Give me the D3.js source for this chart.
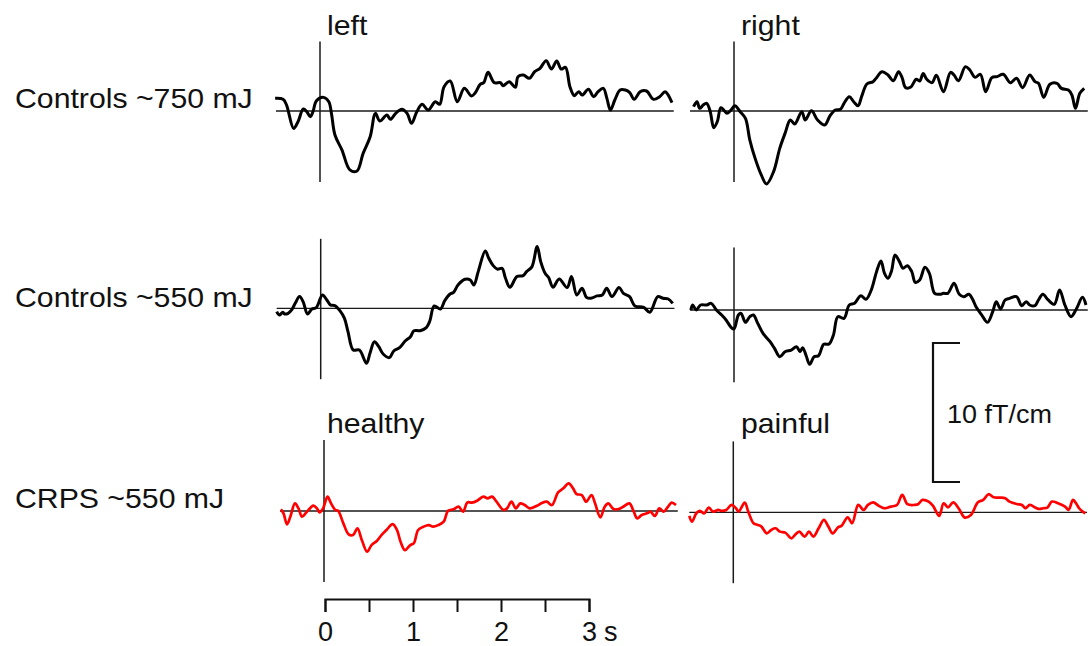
<!DOCTYPE html>
<html>
<head>
<meta charset="utf-8">
<script src="https://cdn.jsdelivr.net/npm/d3@7"></script>
<style>
  body { margin: 0; background: #fff; }
  svg { display: block; font-family: "Liberation Sans", Arial, sans-serif; }
</style>
</head>
<body>
<svg id="chart" width="1090" height="646"></svg>
<script>
// time in s (0 = stimulus), amplitude in fT/cm
var ctl750Left = [[-0.51,0.91],[-0.42,0.84],[-0.38,0.43],[-0.30,-1.25],[-0.25,-0.77],[-0.19,0.14],[-0.15,-0.05],[-0.11,-0.41],[-0.08,-0.05],[-0.04,0.74],[0.04,0.98],[0.10,0.67],[0.13,-0.17],[0.17,-1.73],[0.25,-2.81],[0.34,-4.24],[0.42,-4.32],[0.49,-3.05],[0.57,-1.85],[0.63,-0.17],[0.68,-0.72],[0.76,-0.29],[0.80,-0.60],[0.86,-0.17],[0.93,0.12],[0.99,-0.17],[1.04,-0.89],[1.10,-0.05],[1.16,0.48],[1.23,0.07],[1.31,0.67],[1.36,0.48],[1.41,1.75],[1.48,2.16],[1.56,0.67],[1.64,1.63],[1.72,1.08],[1.76,1.27],[1.82,1.92],[1.86,2.04],[1.91,2.78],[1.98,2.04],[2.05,2.04],[2.08,1.82],[2.15,2.11],[2.22,1.70],[2.25,2.47],[2.31,2.59],[2.38,2.35],[2.44,2.83],[2.50,3.07],[2.57,3.62],[2.63,3.02],[2.69,3.60],[2.74,3.02],[2.79,3.14],[2.84,1.75],[2.89,1.10],[2.94,1.39],[2.98,1.15],[3.05,1.56],[3.11,1.03],[3.16,1.39],[3.22,1.63],[3.26,0.91],[3.30,0.07],[3.35,0.79],[3.41,1.51],[3.47,1.51],[3.52,1.32],[3.57,0.84],[3.64,1.39],[3.71,1.44],[3.79,0.84],[3.86,1.03],[3.92,1.39],[3.95,1.22],[4.00,0.60]];

var ctl750Right = [[-0.46,0.31],[-0.42,0.67],[-0.39,0.19],[-0.35,0.43],[-0.31,0.55],[-0.27,-0.05],[-0.23,-1.20],[-0.19,-0.77],[-0.15,0.24],[-0.11,0.02],[-0.08,-0.17],[-0.04,0.02],[0.01,0.38],[0.07,-0.05],[0.13,-0.53],[0.18,-2.09],[0.24,-3.41],[0.31,-4.60],[0.37,-5.25],[0.45,-4.36],[0.52,-2.69],[0.58,-1.61],[0.64,-0.65],[0.69,-0.94],[0.77,-0.05],[0.81,-0.65],[0.88,0.02],[0.95,-0.65],[1.03,-1.01],[1.09,-0.36],[1.15,0.07],[1.21,0.12],[1.25,0.55],[1.31,1.03],[1.36,0.67],[1.41,0.38],[1.45,1.03],[1.51,1.94],[1.58,2.11],[1.62,2.40],[1.68,2.83],[1.75,2.59],[1.81,2.18],[1.87,2.83],[1.91,2.40],[1.95,1.68],[2.01,1.73],[2.07,2.28],[2.11,2.16],[2.15,2.69],[2.19,2.28],[2.25,2.04],[2.30,2.57],[2.38,1.39],[2.46,2.78],[2.50,2.59],[2.55,2.18],[2.63,3.19],[2.68,2.95],[2.74,2.42],[2.80,2.64],[2.86,1.39],[2.93,2.40],[2.99,2.47],[3.06,2.64],[3.14,2.04],[3.21,2.35],[3.28,1.68],[3.36,2.59],[3.42,2.11],[3.46,1.99],[3.52,0.98],[3.59,1.92],[3.67,1.99],[3.72,1.63],[3.80,1.51],[3.84,1.15],[3.88,0.19],[3.93,1.27],[3.98,1.63]];

var ctl550Left = [[-0.50,-0.24],[-0.47,-0.48],[-0.43,-0.29],[-0.41,-0.41],[-0.37,-0.36],[-0.33,-0.12],[-0.29,0.36],[-0.24,0.84],[-0.20,0.48],[-0.15,-0.41],[-0.10,-0.05],[-0.05,0.05],[0.02,0.96],[0.07,0.60],[0.11,0.24],[0.16,0.19],[0.22,-0.19],[0.27,-0.72],[0.31,-1.68],[0.37,-3.00],[0.44,-3.00],[0.52,-3.96],[0.56,-3.24],[0.61,-2.40],[0.66,-2.76],[0.71,-3.29],[0.78,-3.55],[0.83,-3.07],[0.90,-2.81],[0.96,-2.35],[1.02,-2.04],[1.06,-1.61],[1.13,-1.61],[1.20,-1.39],[1.24,-0.91],[1.29,0.17],[1.36,-0.05],[1.41,0.55],[1.47,1.03],[1.51,1.15],[1.56,1.68],[1.64,2.09],[1.70,2.04],[1.74,1.68],[1.79,2.64],[1.87,4.12],[1.91,3.60],[1.96,3.07],[2.01,2.81],[2.06,2.88],[2.10,2.16],[2.15,1.51],[2.23,2.28],[2.30,2.35],[2.34,2.64],[2.40,2.98],[2.46,4.44],[2.50,3.36],[2.55,2.52],[2.59,2.21],[2.64,1.51],[2.71,2.11],[2.80,1.49],[2.85,2.28],[2.91,0.96],[2.97,1.44],[3.02,0.79],[3.07,0.72],[3.14,0.89],[3.20,0.96],[3.25,1.44],[3.31,0.84],[3.39,1.49],[3.44,1.08],[3.51,0.84],[3.57,0.17],[3.67,0.07],[3.74,-0.29],[3.83,0.84],[3.89,0.72],[3.95,0.67],[4.00,0.36]];

var ctl550Right = [[-0.49,0.00],[-0.47,0.36],[-0.43,0.00],[-0.38,0.36],[-0.31,0.36],[-0.26,0.48],[-0.20,0.00],[-0.14,-0.36],[-0.09,-0.72],[-0.03,-1.27],[0.00,-1.37],[0.05,-0.36],[0.08,-0.24],[0.13,-0.89],[0.18,-0.48],[0.22,-0.36],[0.27,-0.96],[0.33,-1.68],[0.41,-2.28],[0.46,-2.76],[0.52,-3.36],[0.58,-3.00],[0.65,-2.88],[0.71,-2.64],[0.75,-3.00],[0.78,-2.71],[0.82,-3.29],[0.86,-3.91],[0.91,-3.36],[0.96,-3.29],[1.02,-2.47],[1.08,-2.45],[1.13,-1.80],[1.18,-0.48],[1.25,-0.60],[1.31,0.36],[1.37,0.48],[1.44,1.03],[1.50,0.77],[1.56,1.44],[1.62,2.76],[1.67,3.53],[1.71,2.64],[1.75,2.28],[1.79,2.81],[1.83,3.96],[1.88,3.48],[1.92,3.00],[1.97,3.19],[2.02,2.76],[2.06,1.99],[2.11,2.16],[2.17,3.07],[2.22,2.64],[2.28,1.20],[2.34,1.13],[2.38,1.20],[2.43,1.20],[2.50,1.92],[2.56,1.13],[2.61,0.96],[2.67,1.13],[2.71,0.79],[2.75,0.24],[2.81,-0.31],[2.88,-0.89],[2.94,-0.12],[2.98,0.60],[3.03,0.07],[3.08,0.72],[3.13,0.84],[3.21,0.96],[3.27,0.31],[3.32,0.60],[3.36,0.36],[3.42,0.31],[3.46,0.72],[3.51,1.13],[3.57,0.72],[3.64,0.41],[3.70,1.44],[3.76,0.36],[3.83,-0.48],[3.89,0.07],[3.96,0.91],[4.00,0.36]];

var crpsHealthy = [[-0.49,0.12],[-0.46,-0.17],[-0.42,-0.96],[-0.38,-0.36],[-0.33,0.55],[-0.29,0.19],[-0.25,-0.41],[-0.20,-0.10],[-0.12,0.38],[-0.08,0.19],[-0.05,-0.10],[-0.01,0.19],[0.04,1.03],[0.08,0.55],[0.13,0.07],[0.16,0.02],[0.22,-0.89],[0.28,-1.68],[0.33,-1.73],[0.38,-1.25],[0.43,-2.09],[0.49,-2.93],[0.54,-2.45],[0.60,-2.16],[0.66,-1.68],[0.71,-1.37],[0.78,-0.94],[0.83,-1.37],[0.87,-2.21],[0.92,-2.81],[0.98,-2.45],[1.02,-2.33],[1.07,-1.37],[1.13,-1.13],[1.19,-1.01],[1.24,-1.13],[1.30,-1.01],[1.36,-0.77],[1.41,0.02],[1.47,0.12],[1.53,0.31],[1.58,-0.05],[1.63,0.62],[1.68,0.60],[1.74,0.74],[1.81,1.03],[1.86,0.91],[1.91,1.03],[1.96,0.67],[2.04,0.07],[2.08,0.19],[2.13,0.67],[2.18,0.19],[2.23,0.55],[2.28,0.43],[2.34,0.19],[2.42,0.38],[2.47,0.55],[2.53,0.67],[2.59,0.43],[2.66,1.34],[2.72,1.63],[2.78,1.99],[2.83,1.63],[2.87,1.22],[2.93,1.15],[2.98,0.67],[3.04,1.15],[3.08,0.55],[3.14,-0.46],[3.19,0.31],[3.23,0.55],[3.29,0.14],[3.35,0.14],[3.40,0.31],[3.47,0.55],[3.52,-0.05],[3.56,-0.53],[3.61,-0.29],[3.67,-0.17],[3.71,-0.05],[3.76,-0.36],[3.81,0.19],[3.86,-0.05],[3.91,0.31],[3.95,0.60],[4.00,0.43]];

var crpsPainful = [[-0.50,-0.26],[-0.47,-0.67],[-0.42,-0.07],[-0.38,0.10],[-0.33,-0.07],[-0.28,0.34],[-0.23,0.05],[-0.17,0.17],[-0.13,0.10],[-0.08,0.17],[-0.02,0.53],[0.03,0.29],[0.06,0.05],[0.13,0.70],[0.17,0.05],[0.23,-0.79],[0.28,-0.91],[0.32,-1.03],[0.38,-1.51],[0.43,-1.27],[0.48,-1.15],[0.53,-1.39],[0.59,-1.46],[0.66,-1.87],[0.70,-1.63],[0.75,-1.39],[0.81,-1.75],[0.86,-1.39],[0.91,-1.75],[0.97,-1.15],[1.03,-0.55],[1.08,-1.03],[1.13,-1.51],[1.19,-1.08],[1.23,-0.98],[1.30,-0.36],[1.35,-0.79],[1.42,0.53],[1.48,0.17],[1.53,0.53],[1.59,0.72],[1.65,0.48],[1.72,0.29],[1.79,0.41],[1.86,0.53],[1.92,1.25],[1.98,0.58],[2.06,0.53],[2.10,0.58],[2.15,0.89],[2.22,0.77],[2.27,0.46],[2.34,-0.26],[2.39,0.65],[2.44,0.36],[2.50,0.72],[2.56,0.29],[2.63,-0.38],[2.70,-0.19],[2.78,0.72],[2.84,0.89],[2.90,1.30],[2.96,1.08],[3.03,1.06],[3.09,1.01],[3.14,0.77],[3.22,0.60],[3.28,0.53],[3.32,0.29],[3.37,0.53],[3.43,0.34],[3.47,0.24],[3.52,0.29],[3.57,0.34],[3.62,0.77],[3.69,0.65],[3.77,0.41],[3.81,0.17],[3.86,0.89],[3.90,0.60],[3.93,0.29],[3.97,0.05],[4.00,-0.07]];

var rowLabels = ["Controls ~750 mJ", "Controls ~550 mJ", "CRPS ~550 mJ"];
var colLabels = ["left", "right", "healthy", "painful"];
var timeTicks = [0, 0.5, 1, 1.5, 2, 2.5, 3];
var scaleBarValue = 10; // fT/cm

var pxPerSec = 88, pxPerUnit = 13.9;

// onset x, baseline y, colour for each panel
var panels = [
  {data: ctl750Left,  x0: 320,   y0: 111,   color: "#000", top: 5.0, bottom: -5.1},
  {data: ctl750Right, x0: 734,   y0: 111,   color: "#000", top: 5.0, bottom: -5.1},
  {data: ctl550Left,  x0: 320.7, y0: 308.3, color: "#000", top: 5.0, bottom: -5.1},
  {data: ctl550Right, x0: 734,   y0: 310,   color: "#000", top: 4.5, bottom: -5.2},
  {data: crpsHealthy, x0: 324,   y0: 511,   color: "#ff0000", top: 5.1, bottom: -5.1},
  {data: crpsPainful, x0: 733.3, y0: 512.3, color: "#ff0000", top: 5.1, bottom: -5.1}
];

var svg = d3.select("#chart");

panels.forEach(function(p) {
  var x = d3.scaleLinear().domain([0, 1]).range([p.x0, p.x0 + pxPerSec]);
  var y = d3.scaleLinear().domain([0, 1]).range([p.y0, p.y0 - pxPerUnit]);
  var g = svg.append("g");

  // zero line
  g.append("line")
    .attr("x1", x(-0.5)).attr("x2", x(4.02))
    .attr("y1", y(0)).attr("y2", y(0))
    .attr("stroke", "#1a1a1a").attr("stroke-width", 1.3);
  // stimulus onset
  g.append("line")
    .attr("x1", x(0)).attr("x2", x(0))
    .attr("y1", y(p.top)).attr("y2", y(p.bottom))
    .attr("stroke", "#1a1a1a").attr("stroke-width", 1.5);

  var line = d3.line()
    .x(function(d) { return x(d[0]); })
    .y(function(d) { return y(d[1]); })
    .curve(d3.curveCatmullRom.alpha(0.5));

  g.append("path")
    .datum(p.data)
    .attr("d", line)
    .attr("fill", "none")
    .attr("stroke", p.color)
    .attr("stroke-width", p.color === "#000" ? 3 : 2.7)
    .attr("stroke-linejoin", "round");
});

function label(txt, x, y, size) {
  svg.append("text")
    .attr("transform", "translate(" + x + "," + y + ") scale(1.08,1)")
    .attr("font-size", size)
    .attr("fill", "#111")
    .text(txt);
}

label(rowLabels[0], 15, 108, 28);
label(rowLabels[1], 15, 307, 28);
label(rowLabels[2], 15, 508, 28);
label(colLabels[0], 327, 35, 28);
label(colLabels[1], 741, 35, 28);
label(colLabels[2], 327, 433, 28);
label(colLabels[3], 741, 433, 28);

// time axis
var t = d3.scaleLinear().domain([0, 3]).range([325, 589]);
var axis = svg.append("g")
  .attr("transform", "translate(0,599)")
  .call(d3.axisBottom(t)
    .tickValues(timeTicks)
    .tickFormat(function(d) { return Number.isInteger(d) ? d : ""; })
    .tickSizeInner(13).tickSizeOuter(13).tickPadding(10));
axis.selectAll("path, line").attr("stroke", "#111").attr("stroke-width", 2);
axis.selectAll("text")
  .attr("font-family", "Liberation Sans, Arial, sans-serif")
  .attr("font-size", 27).attr("fill", "#111");
axis.select(".domain").attr("stroke-linejoin", "miter");
svg.append("text")
  .attr("x", t(3) + 15).attr("y", 641)
  .attr("font-size", 27).attr("fill", "#111")
  .text("s");

// scale bar
var sb = d3.scaleLinear().domain([0, scaleBarValue]).range([482, 343]);
svg.append("path")
  .attr("d", "M960," + sb(scaleBarValue) + "H933V" + sb(0) + "H960")
  .attr("fill", "none").attr("stroke", "#111").attr("stroke-width", 2.2);
label(scaleBarValue + " fT/cm", 947, 423, 25);
</script>
</body>
</html>
